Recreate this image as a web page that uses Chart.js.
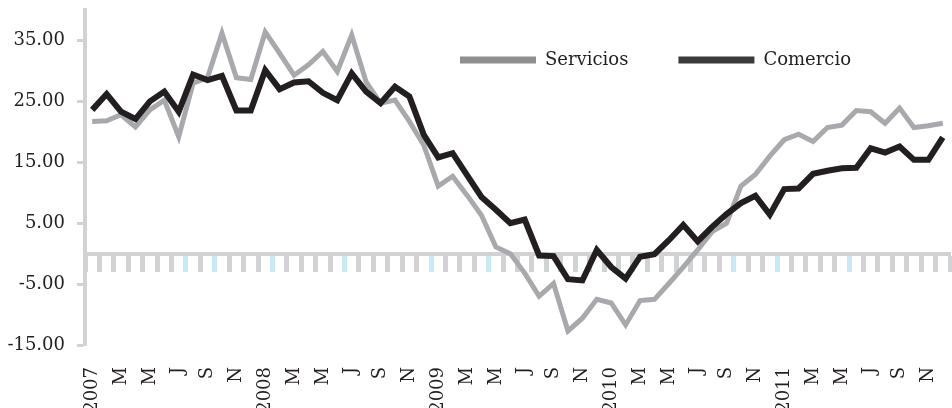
<!DOCTYPE html>
<html>
<head>
<meta charset="utf-8">
<script src="https://cdn.jsdelivr.net/npm/chart.js@4"></script>
<style>
  html, body { margin: 0; padding: 0; background: #ffffff; }
  canvas { display: block; }
</style>
</head>
<body>
<canvas id="chart" width="952" height="408"></canvas>
<script>
// Monthly series, January 2007 to December 2011
const years = ['2007', '2008', '2009', '2010', '2011'];
const monthLetters = ['E', 'F', 'M', 'A', 'M', 'J', 'J', 'A', 'S', 'O', 'N', 'D'];

const servicios = [
  21.7, 21.8, 22.8, 20.8, 23.6, 25.2, 19.2, 28.0, 28.9, 36.2, 28.9, 28.6,
  36.4, 32.9, 29.3, 31.0, 33.2, 29.9, 35.9, 28.2, 24.7, 25.2, 21.7, 17.8,
  11.1, 12.7, 9.6, 6.3, 1.1, 0.0, -3.2, -7.0, -4.9, -12.7, -10.6, -7.5,
  -8.1, -11.7, -7.7, -7.5, -4.9, -2.2, 0.6, 3.6, 5.0, 11.1, 13.0, 16.0,
  18.7, 19.6, 18.4, 20.7, 21.1, 23.5, 23.3, 21.4, 23.9, 20.7, 21.0, 21.4
];

const comercio = [
  23.6, 26.2, 23.3, 22.1, 25.0, 26.6, 23.3, 29.4, 28.5, 29.2, 23.5, 23.5,
  30.1, 27.0, 28.1, 28.3, 26.4, 25.2, 29.6, 26.6, 24.7, 27.4, 25.8, 19.5,
  15.8, 16.5, 12.9, 9.3, 7.2, 5.0, 5.6, -0.3, -0.4, -4.2, -4.4, 0.6,
  -2.2, -4.1, -0.5, -0.1, 2.2, 4.7, 2.0, 4.4, 6.5, 8.3, 9.5, 6.4,
  10.6, 10.7, 13.1, 13.6, 14.0, 14.1, 17.3, 16.6, 17.6, 15.4, 15.4, 19.1
];

const yTicks = [-15, -5, 5, 15, 25, 35];

// Category labels: the year on January, month initial otherwise
const labels = years.flatMap(y => monthLetters.map((m, i) => (i === 0 ? y : m)));

// Style
const INK = '#231f20';
const AXIS_GREY = '#d1d2d4';
const TICK_BLUE = '#c8e9f8';
const blueTickIdx = [7, 9, 13, 18, 24, 28, 45, 48, 53];

Chart.defaults.font.family = "'DejaVu Serif', serif";
Chart.defaults.font.size = 18;
Chart.defaults.color = INK;

// Lets the legend sit inside the plot without taking layout space
const legendInPlot = {
  id: 'legendInPlot',
  afterInit(chart) {
    const lg = chart.legend;
    if (!lg || lg._inPlot) return;
    const fit = lg.fit;
    lg.fit = function () { fit.call(this); this.height = 0; };
    lg._inPlot = true;
  },
  afterLayout(chart, args, opts) {
    const lg = chart.legend;
    if (!lg) return;
    const pad = lg.options.labels.padding;
    lg.left = opts.x - pad;
    lg.top = opts.y - pad;
    lg.right = chart.width;
    lg.bottom = lg.top + 80;
    lg.width = lg.right - lg.left;
    lg.height = 80;
  }
};

// Axes fill the plot exactly, without label overhang padding
const noSidePadding = scale => { scale.paddingLeft = 0; scale.paddingRight = 0; };
const noEndPadding = scale => { scale.paddingTop = 0; scale.paddingBottom = 0; };

new Chart(document.getElementById('chart'), {
  type: 'line',
  data: {
    labels: labels,
    datasets: [
      {
        label: 'Servicios',
        data: servicios,
        borderColor: '#a7a9ac',
        backgroundColor: '#8f8f92',
        borderWidth: 5,
        pointRadius: 0,
        borderJoinStyle: 'miter',
        fill: false,
        order: 1,
        xAxisID: 'x'
      },
      {
        label: 'Comercio',
        data: comercio,
        borderColor: INK,
        backgroundColor: '#3b3b3b',
        borderWidth: 6,
        pointRadius: 0,
        borderJoinStyle: 'miter',
        fill: false,
        order: 0,
        xAxisID: 'x'
      }
    ]
  },
  options: {
    responsive: false,
    devicePixelRatio: 1,
    animation: false,
    events: [],
    layout: { autoPadding: false, padding: { top: 10, right: 2, bottom: 0, left: 0 } },
    scales: {
      x: {
        type: 'category',
        position: 'bottom',
        offset: true,
        grid: { display: false, drawTicks: false },
        border: { display: false },
        ticks: {
          autoSkip: false,
          minRotation: 90,
          maxRotation: 90,
          padding: 22,
          color: INK,
          font: { size: 18 },
          callback: function (value, index) {
            return index % 2 === 0 ? this.getLabelForValue(value) : '';
          }
        },
        afterFit(scale) { scale.height = 63; noSidePadding(scale); }
      },
      x0: {
        type: 'category',
        position: { y: 0 },
        offset: true,
        grid: {
          offset: true,
          drawOnChartArea: false,
          drawTicks: true,
          tickLength: 16,
          tickWidth: 5,
          tickColor: ctx => (ctx.index !== undefined && blueTickIdx.includes(ctx.index) ? TICK_BLUE : AXIS_GREY)
        },
        border: { display: true, color: AXIS_GREY, width: 4 },
        ticks: { display: false, autoSkip: false },
        afterFit(scale) { noSidePadding(scale); }
      },
      y: {
        type: 'linear',
        position: 'left',
        min: -15,
        max: 40,
        afterBuildTicks(scale) { scale.ticks = yTicks.map(v => ({ value: v })); },
        grid: {
          drawOnChartArea: false,
          drawTicks: true,
          tickLength: 8,
          tickWidth: 3,
          tickColor: AXIS_GREY
        },
        border: { display: true, color: AXIS_GREY, width: 4 },
        ticks: {
          padding: 12,
          color: INK,
          font: { size: 18 },
          callback: v => v.toFixed(2)
        },
        afterFit(scale) { scale.width = 85; noEndPadding(scale); }
      }
    },
    plugins: {
      tooltip: { enabled: false },
      legendInPlot: { x: 460, y: 51 },
      legend: {
        display: true,
        position: 'top',
        align: 'start',
        labels: {
          boxWidth: 76,
          boxHeight: 7,
          padding: 50,
          color: INK,
          font: { size: 18 },
          generateLabels(chart) {
            const items = Chart.defaults.plugins.legend.labels.generateLabels(chart);
            items.sort((a, b) => a.datasetIndex - b.datasetIndex);
            return items.map(it => Object.assign(it, { strokeStyle: it.fillStyle, lineWidth: 0 }));
          }
        }
      }
    }
  },
  plugins: [legendInPlot]
});
</script>
</body>
</html>
